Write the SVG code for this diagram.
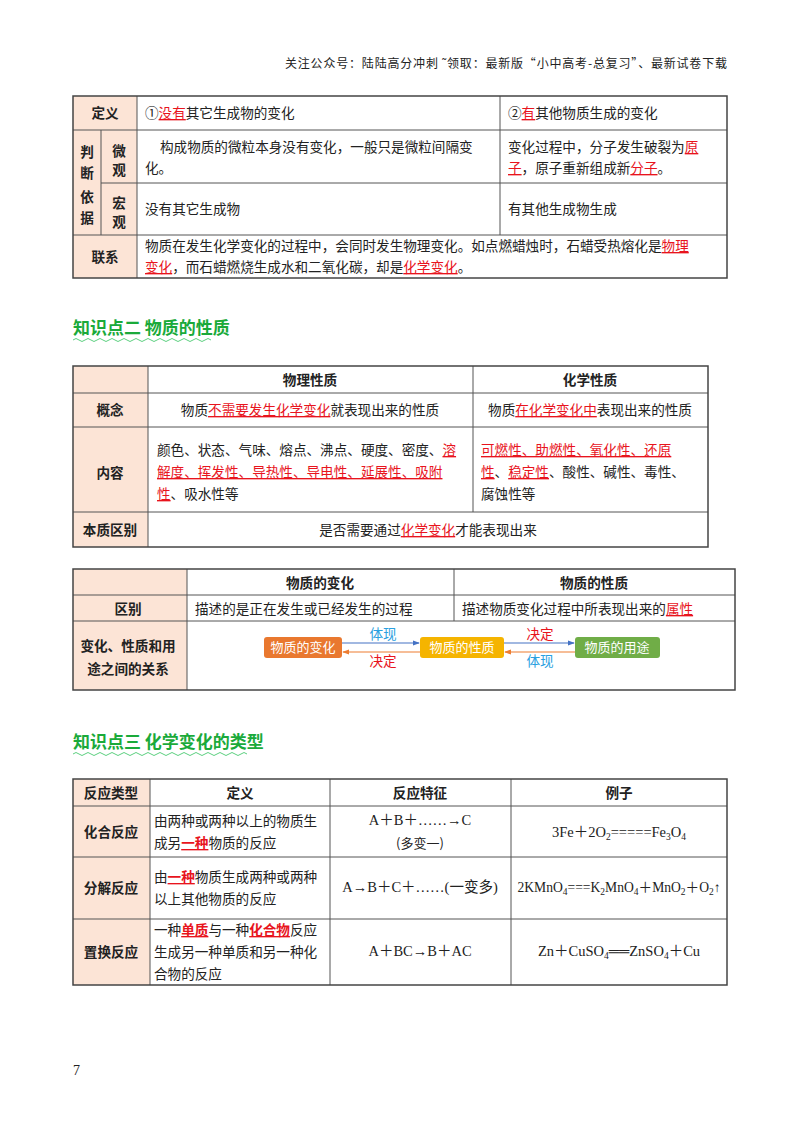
<svg xmlns="http://www.w3.org/2000/svg" width="800" height="1132" viewBox="0 0 800 1132">
<style>
text{font-family:"Noto Sans CJK SC","Liberation Sans",sans-serif;font-size:13.6px;fill:#222}
.b{font-weight:bold}
.c{text-anchor:middle}
.r{fill:#e8141d;text-decoration:underline}
.hd{fill:#fce4d6}
.ln{stroke:#555;stroke-width:1;fill:none}
.bd{stroke:#444;stroke-width:1.5;fill:none}
.f{font-family:"Liberation Serif","Noto Sans CJK SC",serif;font-size:14.5px}
.s{font-size:9.5px}
.g{fill:#1aaa3a;font-weight:bold;font-size:17px}
.bx{font-size:13px;fill:#fff}
</style>
<defs>
<marker id="ab" viewBox="0 0 8 8" refX="7" refY="4" markerWidth="6" markerHeight="6" orient="auto"><path d="M0,1 L8,4 L0,7 z" fill="#4472c4"/></marker>
<marker id="ao" viewBox="0 0 8 8" refX="7" refY="4" markerWidth="6" markerHeight="6" orient="auto"><path d="M0,1 L8,4 L0,7 z" fill="#ed7d31"/></marker>
</defs>
<rect width="800" height="1132" fill="#fff"/>
<text x="285" y="68" textLength="442" lengthAdjust="spacing" style="font-size:12px">关注公众号：陆陆高分冲刺 ˜领取：最新版“小中高考-总复习”、最新试卷下载</text>

<g id="table1">
<rect class="hd" x="73" y="96" width="64" height="182"/>
<path class="ln" d="M137,96V278 M101,130V235 M500,96V235 M73,130H727 M101,183H727 M73,235H727"/>
<rect class="bd" x="73" y="96" width="654" height="182"/>
<text class="b c" x="105" y="118">定义</text>
<text x="145" y="118">①<tspan class="r">没有</tspan>其它生成物的变化</text>
<text x="508" y="118">②<tspan class="r">有</tspan>其他物质生成的变化</text>
<text class="b c" x="87" y="157">判</text><text class="b c" x="87" y="178">断</text>
<text class="b c" x="87" y="202">依</text><text class="b c" x="87" y="223">据</text>
<text class="b c" x="119" y="156">微</text><text class="b c" x="119" y="175">观</text>
<text class="b c" x="119" y="208">宏</text><text class="b c" x="119" y="227">观</text>
<text x="160" y="152">构成物质的微粒本身没有变化，一般只是微粒间隔变</text>
<text x="145" y="173">化。</text>
<text x="508" y="152">变化过程中，分子发生破裂为<tspan class="r">原</tspan></text>
<text x="508" y="173"><tspan class="r">子</tspan>，原子重新组成新<tspan class="r">分子</tspan>。</text>
<text x="145" y="214">没有其它生成物</text>
<text x="508" y="214">有其他生成物生成</text>
<text class="b c" x="105" y="262">联系</text>
<text x="145" y="251">物质在发生化学变化的过程中，会同时发生物理变化。如点燃蜡烛时，石蜡受热熔化是<tspan class="r">物理</tspan></text>
<text x="145" y="272"><tspan class="r">变化</tspan>，而石蜡燃烧生成水和二氧化碳，却是<tspan class="r">化学变化</tspan>。</text>
</g>

<g id="heading2">
<text class="g" x="73" y="334">知识点二  物质的性质</text>
<path d="M73,340 q3,-3 6,0 t6,0 t6,0 t6,0 t6,0 t6,0 t6,0 t6,0 t6,0 t6,0 t6,0 t6,0 t6,0 t6,0 t6,0 t6,0 t6,0 t6,0 t6,0 t6,0 t6,0 t6,0 t6,0" stroke="#5cd080" fill="none" stroke-width="1"/>
</g>

<g id="table2">
<rect class="hd" x="73" y="366" width="75" height="181"/>
<path class="ln" d="M148,366V547 M473,366V512 M73,393H708 M73,427H708 M73,512H708"/>
<rect class="bd" x="73" y="366" width="635" height="181"/>
<text class="b c" x="310" y="385">物理性质</text>
<text class="b c" x="590" y="385">化学性质</text>
<text class="b c" x="110" y="415">概念</text>
<text class="c" x="310" y="415">物质<tspan class="r">不需要发生化学变化</tspan>就表现出来的性质</text>
<text class="c" x="590" y="415">物质<tspan class="r">在化学变化中</tspan>表现出来的性质</text>
<text class="b c" x="110" y="478">内容</text>
<text x="157" y="455">颜色、状态、气味、熔点、沸点、硬度、密度、<tspan class="r">溶</tspan></text>
<text x="157" y="477"><tspan class="r">解度、挥发性、导热性、导电性、延展性、吸附</tspan></text>
<text x="157" y="499"><tspan class="r">性</tspan>、吸水性等</text>
<text x="481" y="455"><tspan class="r">可燃性、助燃性、氧化性、还原</tspan></text>
<text x="481" y="477"><tspan class="r">性</tspan>、<tspan class="r">稳定性</tspan>、酸性、碱性、毒性、</text>
<text x="481" y="499">腐蚀性等</text>
<text class="b c" x="110" y="535">本质区别</text>
<text class="c" x="428" y="535">是否需要通过<tspan class="r">化学变化</tspan>才能表现出来</text>
</g>

<g id="table3">
<rect class="hd" x="73" y="569" width="114" height="121"/>
<path class="ln" d="M187,569V690 M454,569V621 M73,595H735 M73,621H735"/>
<rect class="bd" x="73" y="569" width="662" height="121"/>
<text class="b c" x="320" y="588">物质的变化</text>
<text class="b c" x="594" y="588">物质的性质</text>
<text class="b c" x="128" y="614">区别</text>
<text x="195" y="614">描述的是正在发生或已经发生的过程</text>
<text x="462" y="614">描述物质变化过程中所表现出来的<tspan class="r">属性</tspan></text>
<text class="b c" x="128" y="651">变化、性质和用</text>
<text class="b c" x="128" y="674">途之间的关系</text>
</g>

<g id="n1"><rect x="264" y="637" width="78" height="21" rx="3" fill="#e9782f"/><text class="bx c" x="303" y="652">物质的变化</text></g>
<g id="n2"><rect x="420" y="637" width="84" height="21" rx="3" fill="#f5b400"/><text class="bx c" x="462" y="652">物质的性质</text></g>
<g id="n3"><rect x="575" y="637" width="85" height="21" rx="3" fill="#70ad47"/><text class="bx c" x="617" y="652">物质的用途</text></g>
<g id="connectors">
<line x1="342" y1="643" x2="419" y2="643" stroke="#4472c4" stroke-width="1.2" marker-end="url(#ab)"/>
<line x1="420" y1="652" x2="343" y2="652" stroke="#ed7d31" stroke-width="1.2" marker-end="url(#ao)"/>
<line x1="504" y1="643" x2="574" y2="643" stroke="#4472c4" stroke-width="1.2" marker-end="url(#ab)"/>
<line x1="575" y1="652" x2="505" y2="652" stroke="#ed7d31" stroke-width="1.2" marker-end="url(#ao)"/>
<text class="c" x="383" y="639" style="fill:#2aa0e0">体现</text>
<text class="c" x="383" y="666" style="fill:#e8141d">决定</text>
<text class="c" x="540" y="639" style="fill:#e8141d">决定</text>
<text class="c" x="540" y="666" style="fill:#2aa0e0">体现</text>
</g>

<g id="heading3">
<text class="g" x="73" y="748">知识点三  化学变化的类型</text>
<path d="M73,754 q3,-3 6,0 t6,0 t6,0 t6,0 t6,0 t6,0 t6,0 t6,0 t6,0 t6,0 t6,0 t6,0 t6,0 t6,0 t6,0 t6,0 t6,0 t6,0 t6,0 t6,0 t6,0 t6,0 t6,0 t6,0 t6,0 t6,0 t6,0 t6,0 t6,0" stroke="#5cd080" fill="none" stroke-width="1"/>
</g>

<g id="table4">
<rect class="hd" x="73" y="779" width="77" height="206"/>
<path class="ln" d="M150,779V985 M330,779V985 M511,779V985 M73,806H727 M73,857H727 M73,919H727"/>
<rect class="bd" x="73" y="779" width="654" height="206"/>
<text class="b c" x="111" y="798">反应类型</text>
<text class="b c" x="240" y="798">定义</text>
<text class="b c" x="420" y="798">反应特征</text>
<text class="b c" x="619" y="798">例子</text>
<text class="b c" x="111" y="837">化合反应</text>
<text class="b c" x="111" y="893">分解反应</text>
<text class="b c" x="111" y="957">置换反应</text>
<text x="154" y="826">由两种或两种以上的物质生</text>
<text x="154" y="848">成另<tspan class="r" style="font-weight:bold">一种</tspan>物质的反应</text>
<text x="154" y="882">由<tspan class="r" style="font-weight:bold">一种</tspan>物质生成两种或两种</text>
<text x="154" y="904">以上其他物质的反应</text>
<text x="154" y="935">一种<tspan class="r" style="font-weight:bold">单质</tspan>与一种<tspan class="r" style="font-weight:bold">化合物</tspan>反应</text>
<text x="154" y="957">生成另一种单质和另一种化</text>
<text x="154" y="979">合物的反应</text>
<text class="f c" x="420" y="825">A＋B＋……→C</text>
<text class="c" x="420" y="848" style="font-size:13px">(多变一)</text>
<text class="f c" x="420" y="892">A→B＋C＋……(一变多)</text>
<text class="f c" x="420" y="956">A＋BC→B＋AC</text>
<text class="f c" x="619" y="837">3Fe＋2O<tspan class="s" dy="3">2</tspan><tspan dy="-3">=====Fe</tspan><tspan class="s" dy="3">3</tspan><tspan dy="-3">O</tspan><tspan class="s" dy="3">4</tspan></text>
<text class="f c" x="619" y="892" style="font-size:13.6px">2KMnO<tspan class="s" dy="3">4</tspan><tspan dy="-3">===K</tspan><tspan class="s" dy="3">2</tspan><tspan dy="-3">MnO</tspan><tspan class="s" dy="3">4</tspan><tspan dy="-3">＋MnO</tspan><tspan class="s" dy="3">2</tspan><tspan dy="-3">＋O</tspan><tspan class="s" dy="3">2</tspan><tspan dy="-3">↑</tspan></text>
<text class="f c" x="619" y="956">Zn＋CuSO<tspan class="s" dy="3">4</tspan><tspan dy="-3">══ZnSO</tspan><tspan class="s" dy="3">4</tspan><tspan dy="-3">＋Cu</tspan></text>
</g>
<text x="73" y="1075" style="font-family:'Liberation Serif',serif;font-size:14px">7</text>
</svg>
